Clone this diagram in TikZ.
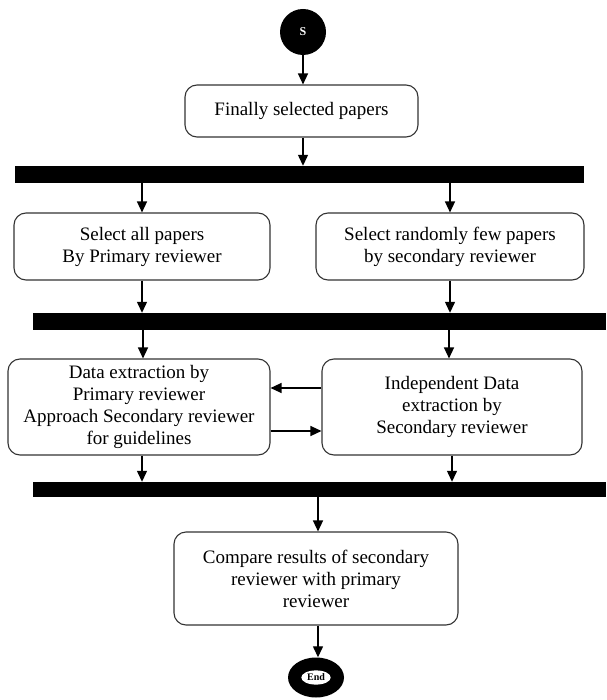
\documentclass[tikz,border=0pt]{standalone}
\usepackage{fontspec}
\setmainfont{Liberation Serif}
\usetikzlibrary{arrows.meta,positioning,shapes.geometric}

\begin{document}
\begin{tikzpicture}[x=1pt, y=-1pt,
    every node/.style={font=\fontsize{19}{22}\selectfont},
    box/.style={draw=black!80, line width=1.1pt, rounded corners=12pt, align=center, inner sep=0pt},
    bar/.style={fill=black, inner sep=0pt, minimum height=17pt},
    arr/.style={-{Triangle[width=10pt,length=11pt]}, line width=1.3pt},
    startnode/.style={circle, fill=black, minimum size=46pt, inner sep=0pt, text=white, font=\bfseries\fontsize{12}{12}\selectfont},
    endnode/.style={ellipse, fill=black, minimum width=56pt, minimum height=40pt, inner sep=0pt},
    endlabel/.style={ellipse, fill=white, inner sep=1.5pt, font=\bfseries\fontsize{10}{10}\selectfont}]
    \useasboundingbox (0,0) rectangle (606,700);

    % start and first step
    \node[startnode] (start) at (303,32) {S};
    \node[box, minimum width=233pt, minimum height=52pt] (final) at (301.5,111) {Finally selected papers};
    \node[bar, minimum width=569pt] (fork) at (299.5,174.5) {};

    % selection by both reviewers
    \node[box, minimum width=256pt, minimum height=67pt] (selA) at (142,246.5) {Select all papers\\By Primary reviewer};
    \node[box, minimum width=268pt, minimum height=67pt] (selB) at (450,246.5) {Select randomly few papers\\by secondary reviewer};
    \node[bar, minimum width=573pt] (sync) at (319.5,321.5) {};

    % data extraction
    \node[box, minimum width=262pt, minimum height=96pt] (extA) at (139,407) {Data extraction by\\Primary reviewer\\Approach Secondary reviewer\\for guidelines};
    \node[box, minimum width=260pt, minimum height=96pt] (extB) at (452,407) {Independent Data\\extraction by\\Secondary reviewer};
    \node[bar, minimum width=573pt, minimum height=15pt] (join) at (319.5,489.5) {};

    % comparison and end
    \node[box, minimum width=284pt, minimum height=93pt] (cmp) at (316,578.5) {Compare results of secondary\\reviewer with primary\\reviewer};
    \node[endnode] (stop) at (316,677.5) {};
    \node[endlabel] (stoptxt) at (stop) {End};

    \draw[arr] (start) -- (start |- final.north);
    \draw[arr] (final.south -| start) -- (start |- fork.north);
    \draw[arr] (selA.north |- fork.south) -- (selA.north);
    \draw[arr] (selB.north |- fork.south) -- (selB.north);
    \draw[arr] (selA.south) -- (selA.south |- sync.north);
    \draw[arr] (selB.south) -- (selB.south |- sync.north);
    \draw[arr] ([xshift=4pt]extA.north |- sync.south) -- ([xshift=4pt]extA.north);
    \draw[arr] ([xshift=-3pt]extB.north |- sync.south) -- ([xshift=-3pt]extB.north);
    \draw[arr] ([yshift=19pt]extB.west) -- ([yshift=19pt]extA.east);
    \draw[arr] ([yshift=-24pt]extA.east) -- ([yshift=-24pt]extB.west);
    \draw[arr] ([xshift=3pt]extA.south) -- ([xshift=3pt]extA.south |- join.north);
    \draw[arr] (extB.south) -- (extB.south |- join.north);
    \draw[arr] ([xshift=2pt]cmp.north |- join.south) -- ([xshift=2pt]cmp.north);
    \draw[arr] ([xshift=2pt]cmp.south) -- ([xshift=2pt]cmp.south |- stop.north);
\end{tikzpicture}
\end{document}
